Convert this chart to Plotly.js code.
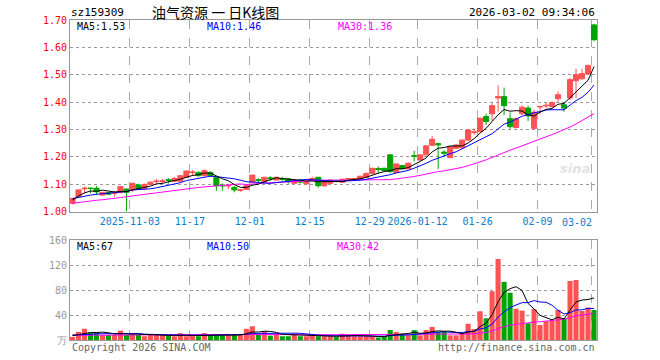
<!DOCTYPE html>
<html><head><meta charset="utf-8">
<script src="https://cdn.plot.ly/plotly-3.0.1.min.js"></script>
<style>html,body{margin:0;padding:0;background:#fff}#chart{width:660px;height:360px}</style>
</head><body><div id="chart"></div>
<script>
const dates = [
 '2025-10-20','2025-10-21','2025-10-22','2025-10-23','2025-10-24','2025-10-27','2025-10-28','2025-10-29','2025-10-30','2025-10-31',
 '2025-11-03','2025-11-04','2025-11-05','2025-11-06','2025-11-07','2025-11-10','2025-11-11','2025-11-12','2025-11-13','2025-11-14',
 '2025-11-17','2025-11-18','2025-11-19','2025-11-20','2025-11-21','2025-11-24','2025-11-25','2025-11-26','2025-11-27','2025-11-28',
 '2025-12-01','2025-12-02','2025-12-03','2025-12-04','2025-12-05','2025-12-08','2025-12-09','2025-12-10','2025-12-11','2025-12-12',
 '2025-12-15','2025-12-16','2025-12-17','2025-12-18','2025-12-19','2025-12-22','2025-12-23','2025-12-24','2025-12-25','2025-12-26',
 '2025-12-29','2025-12-30','2025-12-31','2026-01-05','2026-01-06','2026-01-07','2026-01-08','2026-01-09',
 '2026-01-12','2026-01-13','2026-01-14','2026-01-15','2026-01-16','2026-01-19','2026-01-20','2026-01-21','2026-01-22','2026-01-23',
 '2026-01-26','2026-01-27','2026-01-28','2026-01-29','2026-01-30','2026-02-02','2026-02-03','2026-02-04','2026-02-05','2026-02-06',
 '2026-02-09','2026-02-10','2026-02-11','2026-02-12','2026-02-13','2026-02-24','2026-02-25','2026-02-26','2026-02-27','2026-03-02'
];
const open = [
 1.030,1.054,1.083,1.086,1.085,1.060,1.070,1.066,1.069,1.082,
 1.079,1.097,1.085,1.099,1.109,1.110,1.116,1.111,1.111,1.125,
 1.142,1.143,1.131,1.143,1.124,1.096,1.093,1.088,1.077,1.081,
 1.107,1.116,1.109,1.123,1.115,1.120,1.119,1.103,1.110,1.101,
 1.118,1.125,1.094,1.103,1.113,1.107,1.119,1.119,1.118,1.124,
 1.139,1.157,1.158,1.207,1.143,1.168,1.156,1.204,
 1.188,1.207,1.242,1.248,1.217,1.197,1.231,1.233,1.261,1.289,
 1.292,1.347,1.357,1.415,1.420,1.339,1.307,1.357,1.378,1.304,
 1.382,1.386,1.384,1.412,1.390,1.415,1.478,1.485,1.503,1.682
];
const high = [
 1.050,1.080,1.091,1.086,1.093,1.072,1.072,1.076,1.092,1.084,
 1.105,1.102,1.102,1.110,1.119,1.119,1.122,1.126,1.132,1.149,
 1.152,1.147,1.154,1.146,1.126,1.103,1.102,1.093,1.082,1.097,
 1.134,1.122,1.127,1.129,1.127,1.127,1.122,1.115,1.119,1.111,
 1.127,1.127,1.111,1.118,1.116,1.120,1.122,1.122,1.130,1.143,
 1.160,1.165,1.160,1.208,1.175,1.170,1.180,1.222,
 1.209,1.242,1.276,1.252,1.224,1.239,1.246,1.263,1.302,1.304,
 1.343,1.357,1.396,1.461,1.453,1.362,1.343,1.388,1.387,1.372,
 1.387,1.398,1.403,1.439,1.400,1.488,1.522,1.522,1.537,1.686
];
const low = [
 1.026,1.052,1.067,1.067,1.060,1.057,1.060,1.054,1.067,1.000,
 1.072,1.082,1.080,1.097,1.102,1.102,1.102,1.107,1.107,1.123,
 1.130,1.127,1.127,1.128,1.076,1.076,1.082,1.070,1.072,1.078,
 1.105,1.107,1.107,1.112,1.113,1.112,1.102,1.100,1.102,1.099,
 1.111,1.087,1.090,1.100,1.106,1.104,1.116,1.116,1.116,1.122,
 1.136,1.138,1.148,1.140,1.141,1.155,1.154,1.183,
 1.185,1.205,1.239,1.155,1.199,1.195,1.229,1.231,1.258,1.280,
 1.290,1.316,1.331,1.365,1.353,1.302,1.303,1.353,1.331,1.298,
 1.356,1.378,1.378,1.400,1.365,1.408,1.415,1.482,1.500,1.622
];
const close = [
 1.048,1.079,1.085,1.084,1.072,1.070,1.063,1.069,1.091,1.070,
 1.103,1.085,1.099,1.107,1.111,1.112,1.114,1.121,1.131,1.148,
 1.144,1.131,1.149,1.130,1.094,1.094,1.095,1.079,1.079,1.094,
 1.133,1.114,1.125,1.120,1.125,1.118,1.109,1.113,1.108,1.109,
 1.120,1.094,1.109,1.115,1.111,1.118,1.120,1.120,1.129,1.139,
 1.158,1.154,1.150,1.146,1.174,1.156,1.176,1.202,
 1.207,1.240,1.264,1.244,1.213,1.237,1.243,1.261,1.298,1.291,
 1.341,1.329,1.387,1.420,1.387,1.310,1.339,1.381,1.350,1.363,
 1.384,1.388,1.398,1.427,1.378,1.482,1.500,1.504,1.534,1.628
];
const volume = [
 5,13,18,12,12,8,8,8,15,8,
 8,8,6,8,8,8,7,6,11,6,
 7,6,11,8,8,8,8,8,8,18,
 22,8,14,7,10,6,6,10,6,6,
 7,6,6,6,5,10,8,6,6,6,
 6,4,5,16,13,10,7.5,15.7,
 7.5,16,21,13,13,7.5,7.5,9.6,26,17.6,
 46,34.7,78,129.6,93,75.7,50,47,26.7,49.6,
 24,30,31,48,35,94.4,96,46.4,52,48
];
const ma5Head = [1.042,1.057,1.068,1.075];
const ma10Head = [1.047,1.052,1.057,1.060,1.063,1.065,1.067,1.069,1.071];
const ma30Head = [1.030,1.033,1.037,1.039,1.041,1.043,1.045,1.048,1.051,1.054,1.057,1.060,1.062,1.065,1.068,1.070,1.073,1.076,1.079,1.082,1.085,1.088,1.090,1.092,1.094,1.096,1.098,1.100,1.101];
const vma5Head = [7,9,11,12];
const vma10Head = [8,8,9,9,10,10,10,10,11];
const vma30Head = [7.5,7.5,7.6,7.6,7.7,7.8,7.9,8.0,8.0,8.1,8.1,8.2,8.2,8.3,8.3,8.4,8.4,8.5,8.5,8.6,8.6,8.7,8.7,8.8,8.8,8.9,8.9,9.0,9.0];
const tickDates = ['2025-11-03','2025-11-17','2025-12-01','2025-12-15','2025-12-29','2026-01-12','2026-01-26','2026-02-09','2026-03-02'];
const tickLabels = ['2025-11-03','11-17','12-01','12-15','12-29','2026-01-12','01-26','02-09','03-02'];
const priceTicks = [1.0,1.1,1.2,1.3,1.4,1.5,1.6,1.7];
const volTicks = [0,40,80,120,160];
const volTickLabels = ['万','40','80','120','160'];

const RED = '#ff5252', GREEN = '#00a400', BLUE = '#0000ff', MAG = '#ff00ff';
const MONO = 'DejaVu Sans Mono, monospace';
const xIdx = dates.map((d, i) => i);

function movAvg(src, n, head) {
  return src.map((v, i) => {
    if (i < n - 1) return head[i];
    let s = 0; for (let k = i - n + 1; k <= i; k++) s += src[k];
    return s / n;
  });
}
const ma5 = movAvg(close, 5, ma5Head), ma10 = movAvg(close, 10, ma10Head), ma30 = movAvg(close, 30, ma30Head);
const vma5 = movAvg(volume, 5, vma5Head), vma10 = movAvg(volume, 10, vma10Head), vma30 = movAvg(volume, 30, vma30Head);
const volColors = close.map((c, i) => c >= open[i] ? RED : GREEN);

const gridOff = 0.42;
const tickPos = tickDates.map(d => dates.indexOf(d) - gridOff);
const tickTxt = tickLabels.map((t, i) => i === tickLabels.length - 1 ? '' : t);

const traces = [
  {type:'scatter', mode:'lines', x:xIdx, y:ma30, line:{color:MAG, width:1}, hoverinfo:'skip', xaxis:'x', yaxis:'y'},
  {type:'scatter', mode:'lines', x:xIdx, y:ma10, line:{color:BLUE, width:1}, hoverinfo:'skip', xaxis:'x', yaxis:'y'},
  {type:'scatter', mode:'lines', x:xIdx, y:ma5, line:{color:'#000', width:1}, hoverinfo:'skip', xaxis:'x', yaxis:'y'},
  {type:'candlestick', x:xIdx, open:open, high:high, low:low, close:close,
   increasing:{line:{color:RED, width:1}, fillcolor:RED},
   decreasing:{line:{color:GREEN, width:1}, fillcolor:GREEN},
   whiskerwidth:0, hoverinfo:'skip', xaxis:'x', yaxis:'y'},
  {type:'bar', x:xIdx, y:volume, width:0.85, marker:{color:volColors, line:{width:0}}, hoverinfo:'skip', xaxis:'x', yaxis:'y2'},
  {type:'scatter', mode:'lines', x:xIdx, y:vma30, line:{color:MAG, width:1}, hoverinfo:'skip', xaxis:'x', yaxis:'y2'},
  {type:'scatter', mode:'lines', x:xIdx, y:vma10, line:{color:BLUE, width:1}, hoverinfo:'skip', xaxis:'x', yaxis:'y2'},
  {type:'scatter', mode:'lines', x:xIdx, y:vma5, line:{color:'#000', width:1}, hoverinfo:'skip', xaxis:'x', yaxis:'y2'}
];

const W = 527.5, H = 320, L = 70, T = 20;
const px = v => (v - L) / W, py = v => (T + H - v) / H;
function ann(text, x, y, xanchor, color, size, family) {
  return {text:text, xref:'paper', yref:'paper', x:px(x), y:py(y), xanchor:xanchor, yanchor:'middle',
          showarrow:false, font:{family:family || MONO, size:size || 10, color:color || '#000'}};
}
const last = close.length - 1;
const annotations = [
  ann('sz159309', 69, 12, 'left', '#000', 11),
  ann('油气资源 一 日K线图', 150, 12, 'left', '#000', 14, 'Noto Sans CJK SC'),
  ann('2026-03-02 09:34:06', 597.5, 12, 'right', '#000', 11),
  ann('MA5:' + ma5[last].toFixed(2), 75, 26, 'left', '#000'),
  ann('MA10:' + ma10[last].toFixed(2), 205, 26, 'left', BLUE),
  ann('MA30:' + ma30[last].toFixed(2), 336, 26, 'left', MAG),
  ann('MA5:' + Math.round(vma5[last]), 75, 246, 'left', '#000'),
  ann('MA10:' + Math.round(vma10[last]), 205, 246, 'left', BLUE),
  ann('MA30:' + Math.round(vma30[last]), 335, 246, 'left', MAG),
  ann(tickLabels[tickLabels.length - 1], 577, 222, 'center', '#0a7dcc'),
  ann('Copyright 2026 SINA.COM', 70, 347, 'left', '#666'),
  ann('http://finance.sina.com.cn', 597.5, 347, 'right', '#666'),
  {text:'<b><i>sina</i></b>', xref:'paper', yref:'paper', x:px(575), y:py(168), xanchor:'center', yanchor:'middle',
   showarrow:false, font:{family:'DejaVu Sans', size:13, color:'#e2e2e2'}}
];

const layout = {
  width:660, height:360, margin:{l:L, r:660 - L - W, t:T, b:360 - T - H, pad:0},
  paper_bgcolor:'#fff', plot_bgcolor:'#fff', showlegend:false, dragmode:false,
  boxgap:0.15, boxgroupgap:0,
  xaxis:{range:[-gridOff, 87.5], tickmode:'array', tickvals:tickPos, ticktext:tickTxt,
         showgrid:true, gridcolor:'#aaa', griddash:'dash', gridwidth:1,
         showline:true, linecolor:'#999', mirror:'all', ticks:'', zeroline:false,
         tickfont:{family:MONO, size:10, color:'#0a7dcc'}, rangeslider:{visible:false}, fixedrange:true, anchor:'y'},
  yaxis:{domain:[(T + H - 211.5) / H, 1], range:[1.0, 1.7], tickmode:'array', tickvals:priceTicks,
         ticktext:priceTicks.map(v => v.toFixed(2)), tickfont:{family:MONO, size:10, color:'#ff0000'},
         showgrid:true, gridcolor:'#999', griddash:'dot', gridwidth:1, showline:true, linecolor:'#999', mirror:true,
         ticks:'', zeroline:false, fixedrange:true, anchor:'x'},
  yaxis2:{domain:[0, 100 / H], range:[0, 160], tickmode:'array', tickvals:volTicks, ticktext:volTickLabels,
          tickfont:{family:MONO, size:10, color:'#999'},
          showgrid:true, gridcolor:'#999', griddash:'dot', gridwidth:1, showline:true, linecolor:'#999', mirror:true,
          ticks:'', zeroline:false, fixedrange:true, anchor:'x'},
  annotations:annotations
};
Plotly.newPlot('chart', traces, layout, {staticPlot:true, displayModeBar:false});
</script></body></html>
